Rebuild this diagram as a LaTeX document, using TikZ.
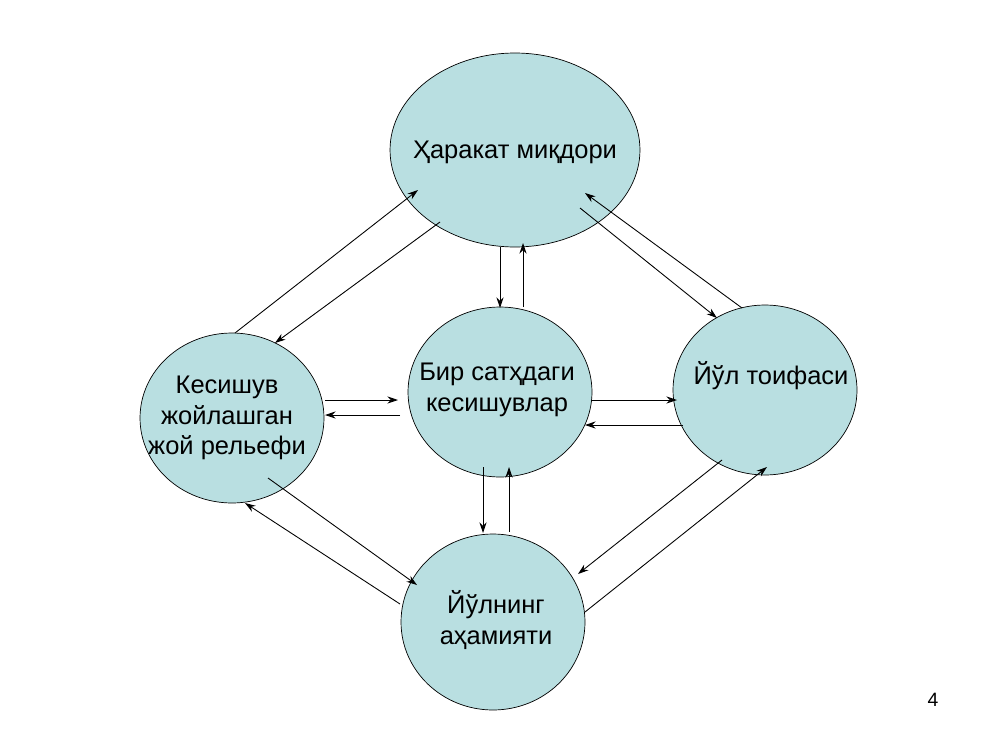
\documentclass[tikz,border=0pt]{standalone}
\usepackage{fontspec}
\setmainfont{Liberation Sans}
\usetikzlibrary{shapes.geometric,arrows.meta}
\begin{document}
\begin{tikzpicture}[x=0.02cm,y=-0.02cm,
  bub/.style={ellipse,draw=black,fill=bubfill,inner sep=0pt},
  lbl/.style={align=center,inner sep=0pt,font=\fontsize{14.5}{17.5}\selectfont},
  con/.style={-{Stealth[length=6pt,width=4pt]},line width=0.5pt}]
\definecolor{bubfill}{HTML}{B9DFE1}
\useasboundingbox (0,0) rectangle (1000,750);
\node[bub,minimum width=5cm,minimum height=3.88cm] (top) at (515,150) {};
\node[bub,minimum width=3.68cm,minimum height=3.4cm] (mid) at (500,392) {};
\node[bub,minimum width=3.68cm,minimum height=3.4cm] (lft) at (232,418) {};
\node[bub,minimum width=3.68cm,minimum height=3.4cm] (rgt) at (765,390) {};
\node[bub,minimum width=3.68cm,minimum height=3.52cm] (bot) at (493,622) {};
\node[lbl] (toptx) at (515,152) {Ҳаракат миқдори};
\node[lbl] (midtx) at (497,390) {Бир сатҳдаги\\кесишувлар};
\node[lbl] (lfttx) at (227,418) {Кесишув\\жойлашган\\жой рельефи};
\node[lbl] (rgttx) at (771,376) {Йўл тоифаси};
\node[lbl] (bottx) at (496,620) {Йўлнинг\\аҳамияти};
\node[font=\fontsize{11}{13}\selectfont] (pg) at (933,700) {4};
\draw[con] (235,333) -- (418,190);
\draw[con] (440,222) -- (275,343);
\draw[con] (500,247) -- (500,308);
\draw[con] (523,307) -- (523,243);
\draw[con] (580,208) -- (717,318);
\draw[con] (742,308) -- (585,193);
\draw[con] (325,400) -- (398,400);
\draw[con] (400,415) -- (325,415);
\draw[con] (592,400) -- (677,400);
\draw[con] (683,425) -- (585,425);
\draw[con] (483,467) -- (483,533);
\draw[con] (509,532) -- (509,467);
\draw[con] (268,478) -- (417,585);
\draw[con] (400,604) -- (245,503);
\draw[con] (722,460) -- (578,574);
\draw[con] (585,612) -- (767,467);
\end{tikzpicture}
\end{document}
